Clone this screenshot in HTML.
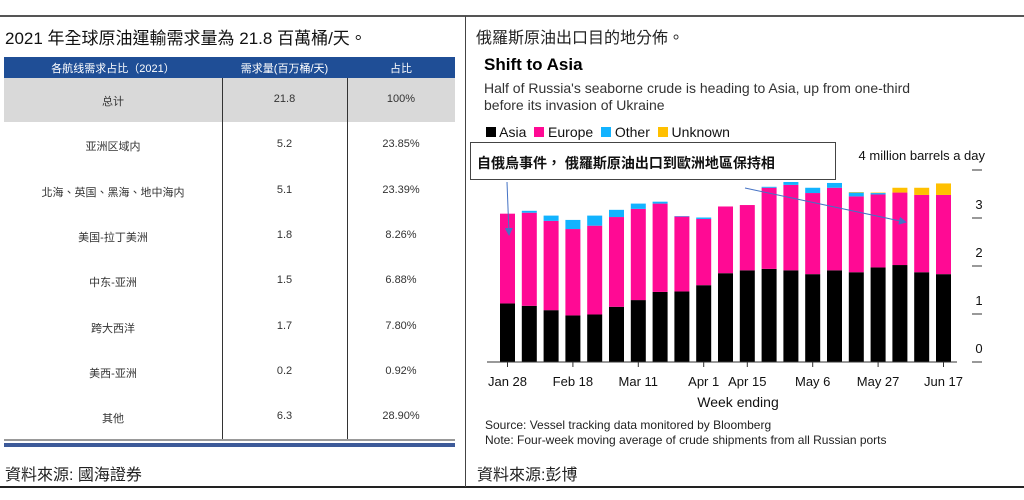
<!DOCTYPE html>
<html><head><meta charset="utf-8"><style>
body{margin:0;width:1024px;height:500px;background:#fff;position:relative;overflow:hidden;font-family:"Liberation Sans","Noto Sans CJK TC",sans-serif;}
.a{position:absolute;}
.cell{position:absolute;text-align:center;font-size:11px;color:#333;}
</style></head><body>
<div class="a" style="left:0;top:15px;width:1024px;height:2px;background:#555"></div>
<div class="a" style="left:0;top:486px;width:1024px;height:2px;background:#222"></div>
<div class="a" style="left:465px;top:16px;width:1px;height:471px;background:#444"></div>

<div class="a" style="left:5px;top:24px;font-size:17px;color:#111">2021 年全球原油運輸需求量為 21.8 百萬桶/天。</div>
<div class="a" style="left:4px;top:57px;width:451px;height:392px">
 <div class="a" style="left:0;top:0;width:451px;height:21px;background:#1f4e96"></div>
 <div class="cell" style="left:0;top:3px;width:218px;color:#fff;font-size:11px">各航线需求占比（2021）</div>
 <div class="cell" style="left:218px;top:3px;width:125px;color:#fff;font-size:11px">需求量(百万桶/天)</div>
 <div class="cell" style="left:343px;top:3px;width:108px;color:#fff;font-size:11px">占比</div>
 <div class="a" style="left:0;top:21px;width:451px;height:44px;background:#d9d9d9"></div>
 <div class="a" style="left:218px;top:21px;width:1px;height:361px;background:#333"></div>
 <div class="a" style="left:343px;top:21px;width:1px;height:361px;background:#333"></div>
 <div class="a" style="left:0;top:382px;width:451px;height:2px;background:#999"></div>
 <div class="a" style="left:0;top:386px;width:451px;height:4px;background:#3d5a99"></div>
 <div id="rows"></div>
</div>
<div class="a" style="left:5px;top:461px;font-size:16px;color:#222">資料來源: 國海證券</div>

<div class="a" style="left:476px;top:24px;font-size:16px;color:#222">俄羅斯原油出口目的地分佈。</div>
<div class="a" style="left:484px;top:55px;font-size:17px;font-weight:bold;color:#000">Shift to Asia</div>
<div class="a" style="left:484px;top:80px;font-size:14px;line-height:17px;color:#333">Half of Russia's seaborne crude is heading to Asia, up from one-third<br>before its invasion of Ukraine</div>
<div class="a" style="left:486px;top:124px;font-size:14px;color:#111;white-space:nowrap">
 <span><span style="display:inline-block;width:10px;height:10px;background:#000"></span> Asia</span>&nbsp;
 <span><span style="display:inline-block;width:10px;height:10px;background:#ff0a94"></span> Europe</span>&nbsp;
 <span><span style="display:inline-block;width:10px;height:10px;background:#12b3ff"></span> Other</span>&nbsp;
 <span><span style="display:inline-block;width:10px;height:10px;background:#ffc000"></span> Unknown</span>
</div>
<svg class="a" style="left:0;top:0" width="1024" height="500" id="chart"></svg>
<div class="a" style="left:470px;top:142px;width:366px;height:38px;border:1px solid #444;background:#fff;box-sizing:border-box;font-size:14px;font-weight:bold;padding-top:10px;padding-left:6px;color:#111">自俄烏事件， 俄羅斯原油出口到歐洲地區保持相</div>
<div class="a" style="left:485px;top:418px;font-size:12px;line-height:15px;color:#222">Source: Vessel tracking data monitored by Bloomberg<br>Note: Four-week moving average of crude shipments from all Russian ports</div>
<div class="a" style="left:477px;top:461px;font-size:16px;color:#222">資料來源:彭博</div>

<script>
const routes=["总计","亚洲区域内","北海、英国、黑海、地中海内","美国-拉丁美洲","中东-亚洲","跨大西洋","美西-亚洲","其他"];
const demand=["21.8","5.2","5.1","1.8","1.5","1.7","0.2","6.3"];
const shares=["100%","23.85%","23.39%","8.26%","6.88%","7.80%","0.92%","28.90%"];
const rows=document.getElementById('rows');
routes.forEach((r,i)=>{
 const y=21+i*45.3+15;
 [[r,0,218],[demand[i],218,125],[shares[i],343,108]].forEach((c,j)=>{
  const d=document.createElement('div');
  d.className='cell';d.style.left=c[1]+'px';d.style.width=c[2]+'px';d.style.top=y+'px';d.textContent=c[0];
  
  
  rows.appendChild(d);
 });
});

const weeks=["Jan 28","","","Feb 18","","","Mar 11","","","Apr 1","","Apr 15","","","May 6","","","May 27","","","Jun 17"];
const asia=[1.22,1.17,1.08,0.97,0.99,1.15,1.29,1.46,1.47,1.60,1.85,1.91,1.94,1.91,1.83,1.91,1.87,1.97,2.02,1.87,1.83];
const europe=[1.87,1.94,1.86,1.80,1.85,1.87,1.90,1.84,1.56,1.38,1.39,1.36,1.69,1.78,1.69,1.72,1.58,1.52,1.51,1.61,1.65];
const other=[0,0.04,0.11,0.19,0.21,0.15,0.11,0.04,0.01,0.03,0,0,0.02,0.06,0.11,0.10,0.08,0.03,0,0,0];
const unknown=[0,0,0,0,0,0,0,0,0,0,0,0,0,0,0,0,0.01,0.01,0.10,0.15,0.24];
const yTicks=[0,1,2,3,4];
const NS='http://www.w3.org/2000/svg';
const svg=document.getElementById('chart');
const x0=500,step=21.8,bw=15,base=362,unit=48;
const X=i=>x0+i*step;
const Y=v=>base-v*unit;
function mk(tag,at){const e=document.createElementNS(NS,tag);for(const k in at)e.setAttribute(k,at[k]);svg.appendChild(e);return e;}
asia.forEach((a,i)=>{
 const segs=[[a,'#000','bar-asia'],[europe[i],'#ff0a94','bar-europe'],[other[i],'#12b3ff','bar-other'],[unknown[i],'#ffc000','bar-unknown']];
 let acc=0;
 segs.forEach(s=>{
  if(s[0]<=0)return;
  const r=mk('rect',{x:X(i),y:Y(acc+s[0]),width:bw,height:s[0]*unit,fill:s[1]});
  
  
  acc+=s[0];
 });
 if(weeks[i]){
  const t=mk('line',{x1:X(i)+bw/2,x2:X(i)+bw/2,y1:base,y2:base+5,stroke:'#333'});
  
  
  const l=mk('text',{x:X(i)+bw/2,y:base+24,'text-anchor':'middle','font-size':13,fill:'#111','font-family':'Liberation Sans'});
  l.textContent=weeks[i];
  
  
 }
});
const ax=mk('line',{x1:487,x2:957,y1:base,y2:base,stroke:'#333','stroke-width':1});


yTicks.forEach(v=>{
 const t=mk('line',{x1:972,x2:982,y1:Y(v)+(v==0?0:-0),y2:Y(v),stroke:'#333'});
 
 
 if(v<4){
  const l=mk('text',{x:979,y:Y(v)-9,'text-anchor':'middle','font-size':13,fill:'#111','font-family':'Liberation Sans'});
  l.textContent=v;
  
  
 }
});
const yl=mk('text',{x:985,y:160,'text-anchor':'end','font-size':13,fill:'#111','font-family':'Liberation Sans'});
yl.textContent='4 million barrels a day';


const xt=mk('text',{x:738,y:407,'text-anchor':'middle','font-size':14,fill:'#111','font-family':'Liberation Sans'});
xt.textContent='Week ending';


const defs=mk('defs',{});
defs.innerHTML='<marker id="ah" markerWidth="8" markerHeight="8" refX="6" refY="4" orient="auto"><path d="M0,0 L8,4 L0,8 z" fill="#4472c4"/></marker>';
const a1=mk('line',{x1:507,y1:182,x2:509,y2:234,stroke:'#4472c4','stroke-width':1,'marker-end':'url(#ah)'});


const a2=mk('line',{x1:745,y1:188,x2:905,y2:222,stroke:'#4472c4','stroke-width':1,'marker-end':'url(#ah)'});


</script>
</body></html>
